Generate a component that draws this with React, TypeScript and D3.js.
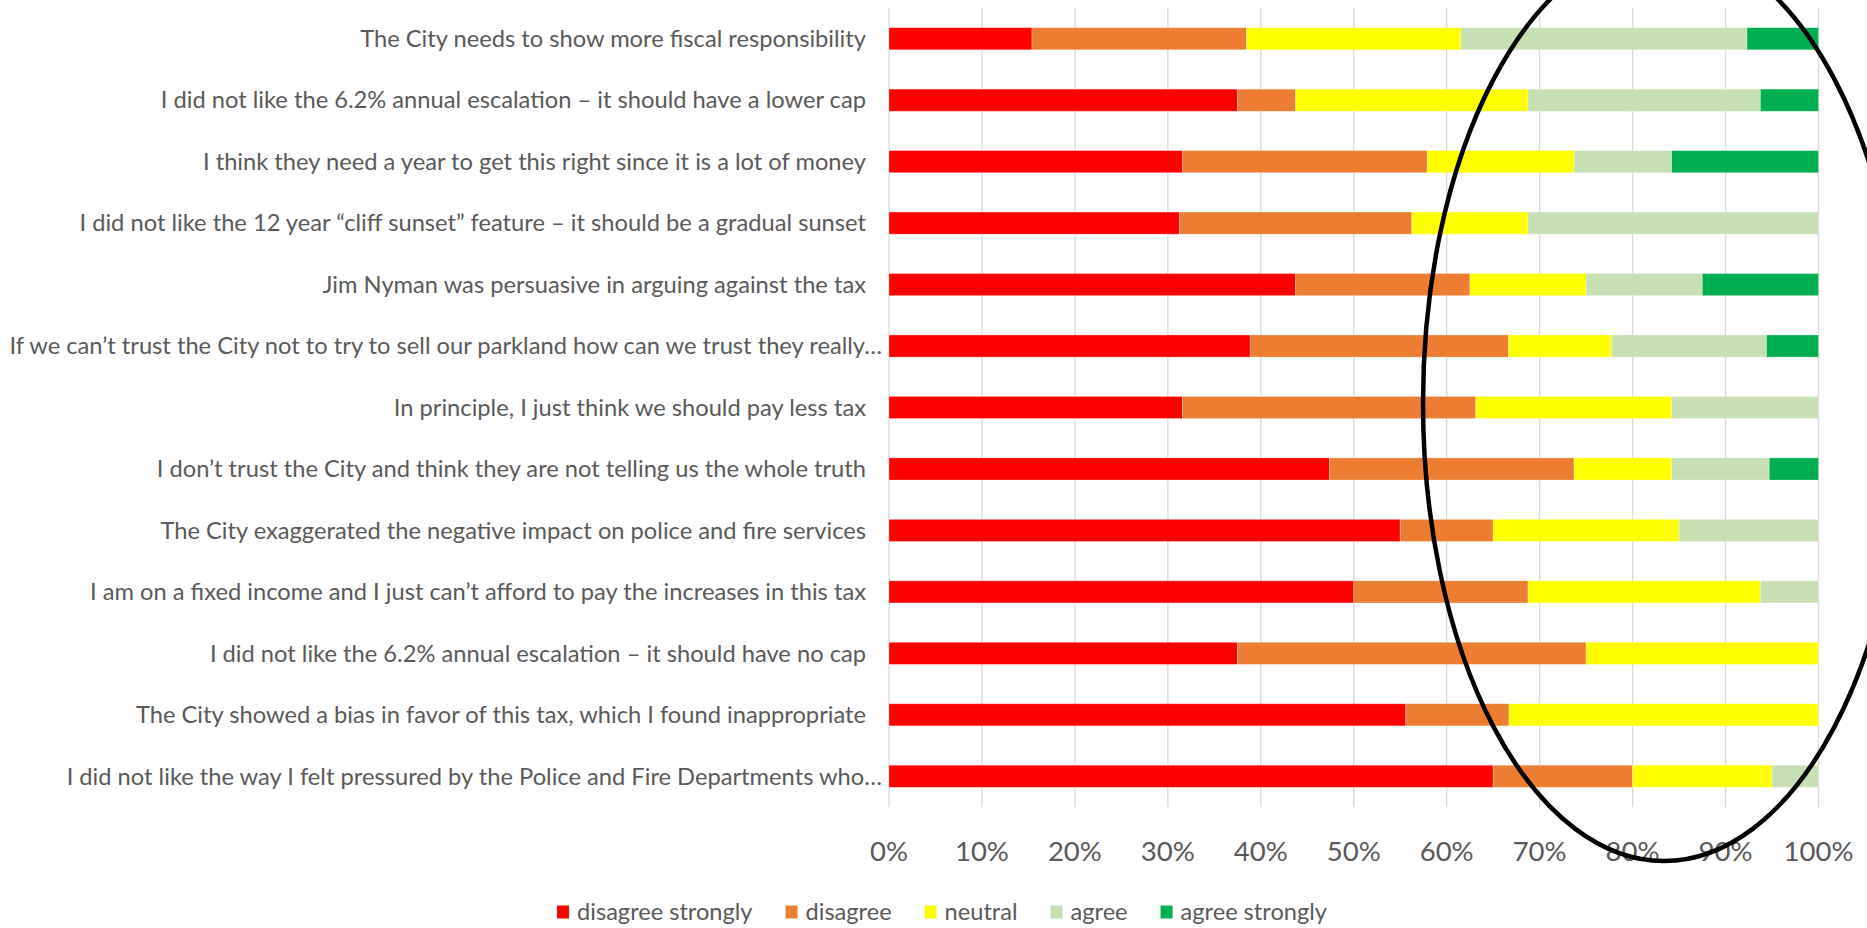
import React, { useEffect, useRef } from "react";
import * as d3 from "d3";

const categories = [
  "The City needs to show more fiscal responsibility",
  "I did not like the 6.2% annual escalation – it should have a lower cap",
  "I think they need a year to get this right since it is a lot of money",
  "I did not like the 12 year “cliff sunset” feature – it should be a gradual sunset",
  "Jim Nyman was persuasive in arguing against the tax",
  "If we can’t trust the City not to try to sell our parkland how can we trust they really…",
  "In principle, I just think we should pay less tax",
  "I don’t trust the City and think they are not telling us the whole truth",
  "The City exaggerated the negative impact on police and fire services",
  "I am on a fixed income and I just can’t afford to pay the increases in this tax",
  "I did not like the 6.2% annual escalation – it should have no cap",
  "The City showed a bias in favor of this tax, which I found inappropriate",
  "I did not like the way I felt pressured by the Police and Fire Departments who…",
];

const disagreeStrongly = [15.4, 37.5, 31.6, 31.25, 43.75, 38.9, 31.6, 47.4, 55, 50, 37.5, 55.6, 65];
const disagree = [23.1, 6.25, 26.3, 25, 18.75, 27.8, 31.6, 26.3, 10, 18.75, 37.5, 11.1, 15];
const neutral = [23.1, 25, 15.8, 12.5, 12.5, 11.1, 21.1, 10.5, 20, 25, 25, 33.3, 15];
const agree = [30.8, 25, 10.5, 31.25, 12.5, 16.7, 15.8, 10.5, 15, 6.25, 0, 0, 5];
const agreeStrongly = [7.7, 6.25, 15.8, 0, 12.5, 5.6, 0, 5.3, 0, 0, 0, 0, 0];

const seriesNames = ["disagree strongly", "disagree", "neutral", "agree", "agree strongly"];
const seriesColors = ["#FF0000", "#ED7D31", "#FFFF00", "#C6E0B4", "#00B050"];
const tickValues = [0, 0.1, 0.2, 0.3, 0.4, 0.5, 0.6, 0.7, 0.8, 0.9, 1];

const W = 1867;
const H = 928;
const FONT = "Lato, 'Open Sans', sans-serif";
const TEXT = "#595959";

export default function App() {
  const ref = useRef<SVGSVGElement | null>(null);

  useEffect(() => {
    const svg = d3.select(ref.current);
    svg.selectAll("*").remove();

    const table = categories.map((c, i) => ({
      cat: c,
      s0: disagreeStrongly[i],
      s1: disagree[i],
      s2: neutral[i],
      s3: agree[i],
      s4: agreeStrongly[i],
    }));
    const keys = ["s0", "s1", "s2", "s3", "s4"];
    const stacked = d3.stack<any>().keys(keys).offset(d3.stackOffsetExpand)(table);

    const x = d3.scaleLinear().domain([0, 1]).range([889, 1818.5]);
    const y = d3
      .scaleBand<string>()
      .domain(categories)
      .range([8, 807])
      .paddingInner(0.64)
      .paddingOuter(0.32);

    // gridlines
    svg
      .append("g")
      .selectAll("line")
      .data(tickValues)
      .join("line")
      .attr("x1", (d) => x(d))
      .attr("x2", (d) => x(d))
      .attr("y1", 8)
      .attr("y2", 807)
      .attr("stroke", "#D9D9D9")
      .attr("stroke-width", 1.3);

    // bars
    svg
      .append("g")
      .selectAll("g")
      .data(stacked)
      .join("g")
      .attr("fill", (_d, i) => seriesColors[i])
      .selectAll("rect")
      .data((d) => d.map((v) => ({ v, cat: v.data.cat })))
      .join("rect")
      .attr("x", (d) => x(d.v[0]))
      .attr("width", (d) => Math.max(0, x(d.v[1]) - x(d.v[0])))
      .attr("y", (d) => y(d.cat)!)
      .attr("height", y.bandwidth())
      .attr("stroke", "#ffffff")
      .attr("stroke-opacity", 0.35)
      .attr("stroke-width", 0.8);

    // category labels
    svg
      .append("g")
      .selectAll("text")
      .data(categories)
      .join("text")
      .attr("x", (d) => x(0) - (d.endsWith("…") ? 7 : 23))
      .attr("y", (d) => y(d)! + y.bandwidth() / 2)
      .attr("dy", "0.35em")
      .attr("text-anchor", "end")
      .attr("font-family", FONT)
      .attr("font-size", 23.7)
      .attr("fill", TEXT)
      .text((d) => d);

    // x tick labels
    svg
      .append("g")
      .selectAll("text")
      .data(tickValues)
      .join("text")
      .attr("x", (d) => x(d))
      .attr("y", 851)
      .attr("dy", "0.35em")
      .attr("text-anchor", "middle")
      .attr("font-family", FONT)
      .attr("font-size", 27.5)
      .attr("fill", TEXT)
      .text((d) => d3.format(".0%")(d));

    // legend
    const legend = svg.append("g");
    const items = legend
      .selectAll("g")
      .data(seriesNames)
      .join("g");
    items
      .append("rect")
      .attr("width", 12)
      .attr("height", 13)
      .attr("y", -6.5)
      .attr("fill", (_d, i) => seriesColors[i]);
    items
      .append("text")
      .attr("x", 20)
      .attr("dy", "0.35em")
      .attr("font-family", FONT)
      .attr("font-size", 23.6)
      .attr("fill", TEXT)
      .text((d) => d);
    let cx = 0;
    const offsets: number[] = [];
    items.each(function () {
      const t = d3.select(this).select("text").node() as SVGTextElement;
      offsets.push(cx);
      cx += 20 + t.getComputedTextLength() + 33;
    });
    const total = cx - 33;
    const startX = 942 - total / 2;
    items.attr("transform", (_d, i) => `translate(${startX + offsets[i]},912)`);

    // hand-drawn ellipse annotation
    svg
      .append("ellipse")
      .attr("cx", 1664)
      .attr("cy", 403)
      .attr("rx", 241)
      .attr("ry", 458)
      .attr("fill", "none")
      .attr("stroke", "#000")
      .attr("stroke-width", 4.5);
  }, []);

  return (
    <svg
      ref={ref}
      width={W}
      height={H}
      style={{ position: "absolute", left: 0, top: 0, background: "#fff" }}
    />
  );
}
